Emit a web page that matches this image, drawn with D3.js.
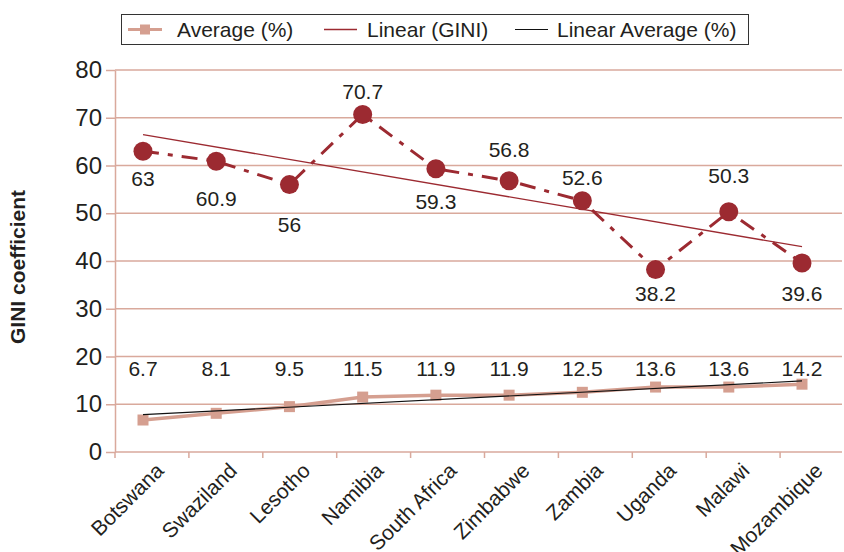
<!DOCTYPE html>
<html>
<head>
<meta charset="utf-8">
<script src="https://cdn.jsdelivr.net/npm/d3@7/dist/d3.min.js"></script>
<style>
  body { margin: 0; background: #fff; }
  svg { display: block; font-family: "Liberation Sans", Arial, sans-serif; }
</style>
</head>
<body>
<svg id="chart" width="844" height="552"></svg>
<script>
const countries = ['Botswana', 'Swaziland', 'Lesotho', 'Namibia', 'South Africa',
    'Zimbabwe', 'Zambia', 'Uganda', 'Malawi', 'Mozambique'];
const gini = [63, 60.9, 56, 70.7, 59.3, 56.8, 52.6, 38.2, 50.3, 39.6];
const average = [6.7, 8.1, 9.5, 11.5, 11.9, 11.9, 12.5, 13.6, 13.6, 14.2];
const yTicks = [0, 10, 20, 30, 40, 50, 60, 70, 80];
// label offsets for the gini data labels (manually placed in the original)
const giniLabelDy = [27, 37, 40, -23, 33, -31, -23, 24, -36, 31];

const gridColor = '#d9a99c';
const giniColor = '#9c2a31';
const avgColor = '#d59f90';

const svg = d3.select('#chart');

const y = d3.scaleLinear().domain([0, 80]).range([452, 70]);
const xBand = d3.scaleBand().domain(countries).range([115, 854]);
const x = d3.scalePoint().domain(countries).range([143, 802]);

// least squares trend, like excel's linear trendline
function trend(vals) {
    const n = vals.length;
    const mx = d3.mean(vals, (d, i) => i + 1);
    const my = d3.mean(vals);
    const sxy = d3.sum(vals, (d, i) => (i + 1 - mx) * (d - my));
    const sxx = d3.sum(vals, (d, i) => (i + 1 - mx) * (i + 1 - mx));
    const b = sxy / sxx;
    const a = my - b * mx;
    return [a + b, a + b * n];
}

// grid
svg.append('g')
    .selectAll('line')
    .data(yTicks.slice(1))
    .join('line')
    .attr('x1', 115).attr('x2', 842)
    .attr('y1', d => y(d)).attr('y2', d => y(d))
    .attr('stroke', gridColor)
    .attr('stroke-width', 1.5);

// y axis
const yAxis = svg.append('g')
    .attr('transform', 'translate(115,0)')
    .call(d3.axisLeft(y).tickValues(yTicks).tickSize(9).tickSizeOuter(0));
yAxis.select('.domain').attr('stroke', gridColor).attr('stroke-width', 1.5);
yAxis.selectAll('.tick line').attr('stroke', gridColor).attr('stroke-width', 1.5);
yAxis.selectAll('.tick text')
    .attr('font-size', '24px')
    .attr('fill', '#231f20')
    .attr('font-family', '"Liberation Sans", Arial, sans-serif')
    .attr('x', -13);

// x axis
svg.append('line')
    .attr('x1', 115).attr('x2', 842)
    .attr('y1', y(0)).attr('y2', y(0))
    .attr('stroke', gridColor).attr('stroke-width', 1.5);
svg.append('g')
    .selectAll('line')
    .data(countries)
    .join('line')
    .attr('x1', d => xBand(d)).attr('x2', d => xBand(d))
    .attr('y1', y(0)).attr('y2', y(0) + 6)
    .attr('stroke', gridColor).attr('stroke-width', 1.5);
svg.append('g')
    .selectAll('text')
    .data(countries)
    .join('text')
    .attr('transform', d => `translate(${x(d) + 22},${y(0) + 20}) rotate(-45)`)
    .attr('text-anchor', 'end')
    .attr('font-size', '21px')
    .attr('fill', '#231f20')
    .text(d => d);

// y title
svg.append('text')
    .attr('transform', 'translate(25,267) rotate(-90)')
    .attr('text-anchor', 'middle')
    .attr('font-size', '21px')
    .attr('font-weight', 'bold')
    .attr('fill', '#231f20')
    .text('GINI coefficient');

// average series
const line = d3.line().x((d, i) => x(countries[i])).y(d => y(d));
svg.append('path')
    .attr('d', line(average))
    .attr('fill', 'none')
    .attr('stroke', avgColor)
    .attr('stroke-width', 3.5);
svg.append('g')
    .selectAll('rect')
    .data(average)
    .join('rect')
    .attr('x', (d, i) => x(countries[i]) - 5.5)
    .attr('y', d => y(d) - 5.5)
    .attr('width', 11).attr('height', 11)
    .attr('fill', avgColor);

// trend lines
const tAvg = trend(average);
const tGini = trend(gini);
svg.append('line')
    .attr('x1', x(countries[0])).attr('x2', x(countries[countries.length - 1]))
    .attr('y1', y(tGini[0])).attr('y2', y(tGini[1]))
    .attr('stroke', giniColor).attr('stroke-width', 1.3);
svg.append('line')
    .attr('x1', x(countries[0])).attr('x2', x(countries[countries.length - 1]))
    .attr('y1', y(tAvg[0])).attr('y2', y(tAvg[1]))
    .attr('stroke', '#111').attr('stroke-width', 1.2);

// gini series
svg.append('path')
    .attr('d', line(gini))
    .attr('fill', 'none')
    .attr('stroke', giniColor)
    .attr('stroke-width', 3)
    .attr('stroke-dasharray', '16,9,5,9');
svg.append('g')
    .selectAll('circle')
    .data(gini)
    .join('circle')
    .attr('cx', (d, i) => x(countries[i]))
    .attr('cy', d => y(d))
    .attr('r', 9.5)
    .attr('fill', giniColor);

// data labels
svg.append('g')
    .selectAll('text')
    .data(gini)
    .join('text')
    .attr('x', (d, i) => x(countries[i]))
    .attr('y', (d, i) => y(d) + giniLabelDy[i])
    .attr('dy', '0.36em')
    .attr('text-anchor', 'middle')
    .attr('font-size', '21px')
    .attr('fill', '#231f20')
    .text(d => d);
svg.append('g')
    .selectAll('text')
    .data(average)
    .join('text')
    .attr('x', (d, i) => x(countries[i]))
    .attr('y', y(20) + 12)
    .attr('dy', '0.36em')
    .attr('text-anchor', 'middle')
    .attr('font-size', '21px')
    .attr('fill', '#231f20')
    .text(d => d);

// legend
const lg = svg.append('g');
lg.append('rect')
    .attr('x', 121.5).attr('y', 14.5)
    .attr('width', 627).attr('height', 30)
    .attr('fill', '#fff')
    .attr('stroke', '#333').attr('stroke-width', 1);
lg.append('line')
    .attr('x1', 128).attr('x2', 162).attr('y1', 29.5).attr('y2', 29.5)
    .attr('stroke', avgColor).attr('stroke-width', 3);
lg.append('rect')
    .attr('x', 140).attr('y', 24.5).attr('width', 10).attr('height', 10)
    .attr('fill', avgColor);
lg.append('line')
    .attr('x1', 324).attr('x2', 357).attr('y1', 29.5).attr('y2', 29.5)
    .attr('stroke', giniColor).attr('stroke-width', 1.3);
lg.append('line')
    .attr('x1', 515).attr('x2', 548).attr('y1', 29.5).attr('y2', 29.5)
    .attr('stroke', '#111').attr('stroke-width', 1.2);
const legendItems = [['Average (%)', 177], ['Linear (GINI)', 367], ['Linear Average (%)', 557]];
lg.selectAll('text.lab')
    .data(legendItems)
    .join('text')
    .attr('class', 'lab')
    .attr('x', d => d[1])
    .attr('y', 29.5)
    .attr('dy', '0.36em')
    .attr('font-size', '21px')
    .attr('fill', '#231f20')
    .text(d => d[0]);
</script>
</body>
</html>
